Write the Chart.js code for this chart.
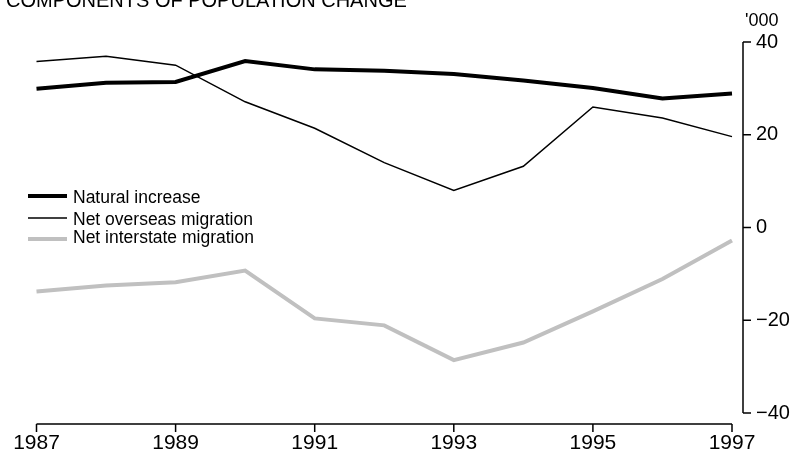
<!DOCTYPE html>
<html>
<head>
<meta charset="utf-8">
<script src="https://cdn.jsdelivr.net/npm/chart.js@4.4.1/dist/chart.umd.min.js"></script>
<style>
  body { margin: 0; background: #fff; }
  #grafico { display: block; }
</style>
</head>
<body>
<canvas id="grafico" width="792" height="454"></canvas>
<script>
const anos = ['1987', '1988', '1989', '1990', '1991', '1992', '1993', '1994', '1995', '1996', '1997'];
const naturalIncrease = [29.9, 31.2, 31.4, 35.9, 34.1, 33.8, 33.1, 31.7, 30.1, 27.8, 28.9];
const netOverseas = [35.8, 36.9, 35.0, 27.1, 21.4, 14.0, 8.0, 13.2, 26.0, 23.6, 19.6];
const netInterstate = [-13.8, -12.5, -11.8, -9.3, -19.6, -21.1, -28.6, -24.8, -18.1, -11.1, -2.8];
const yTicks = [-40, -20, 0, 20, 40];

const fonte = '"Liberation Sans", Arial, sans-serif';

// eixos, legenda e titulo desenhados a mao
const extras = {
    id: 'extras',
    afterDraw(chart) {
        const ctx = chart.ctx;
        const x = chart.scales.x;
        const y = chart.scales.y;
        ctx.save();
        ctx.strokeStyle = '#000';
        ctx.lineWidth = 1.5;

        // eixo x
        const yEixo = 424;
        ctx.beginPath();
        ctx.moveTo(x.getPixelForValue(0), yEixo);
        ctx.lineTo(x.getPixelForValue(anos.length - 1), yEixo);
        for (let i = 0; i < anos.length; i += 2) {
            const px = x.getPixelForValue(i);
            ctx.moveTo(px, yEixo);
            ctx.lineTo(px, yEixo + 8);
        }
        ctx.stroke();

        // eixo y
        const xEixo = 743;
        ctx.beginPath();
        ctx.moveTo(xEixo, y.getPixelForValue(40));
        ctx.lineTo(xEixo, y.getPixelForValue(-40));
        yTicks.forEach(function (v) {
            const py = y.getPixelForValue(v);
            ctx.moveTo(xEixo, py);
            ctx.lineTo(xEixo + 8, py);
        });
        ctx.stroke();

        ctx.fillStyle = '#000';
        ctx.textAlign = 'left';
        ctx.textBaseline = 'middle';
        ctx.font = '18px ' + fonte;
        ctx.fillText("'000", 745, 21);

        // titulo (cortado no topo)
        ctx.textBaseline = 'alphabetic';
        ctx.font = '20px ' + fonte;
        ctx.fillText('COMPONENTS OF POPULATION CHANGE', 6, 6.5);

        // legenda
        const linhaY = [196, 218, 239];
        const textoY = [198, 220, 238];
        ctx.font = '17.5px ' + fonte;
        ctx.textBaseline = 'middle';
        chart.data.datasets.forEach(function (ds, i) {
            ctx.beginPath();
            ctx.strokeStyle = ds.borderColor;
            ctx.lineWidth = ds.borderWidth;
            ctx.moveTo(28, linhaY[i]);
            ctx.lineTo(67, linhaY[i]);
            ctx.stroke();
            ctx.fillStyle = '#000';
            ctx.fillText(ds.label, 73, textoY[i]);
        });
        ctx.restore();
    }
};

const ctx = document.getElementById('grafico').getContext('2d');
const grafico = new Chart(ctx, {
    type: 'line',
    data: {
        labels: anos,
        datasets: [{
            label: 'Natural increase',
            data: naturalIncrease,
            borderColor: '#000000',
            borderWidth: 4,
        }, {
            label: 'Net overseas migration',
            data: netOverseas,
            borderColor: '#000000',
            borderWidth: 1.5,
        }, {
            label: 'Net interstate migration',
            data: netInterstate,
            borderColor: '#c0c0c0',
            borderWidth: 4,
        }]
    },
    options: {
        responsive: false,
        animation: false,
        layout: { padding: { top: 42, left: 36.5, right: 0, bottom: 0 } },
        elements: { point: { radius: 0 }, line: { tension: 0 } },
        plugins: { legend: { display: false }, tooltip: { enabled: false } },
        scales: {
            x: {
                offset: false,
                grid: { display: false, drawTicks: false },
                border: { display: false },
                ticks: {
                    autoSkip: false,
                    maxRotation: 0,
                    padding: 18,
                    color: '#000',
                    font: { family: fonte, size: 21 },
                    callback: function (value, index) {
                        return index % 2 === 0 ? anos[index] : '';
                    }
                },
                afterFit: function (scale) {
                    scale.height = 41;
                    scale.paddingLeft = 0;
                    scale.paddingRight = 0;
                }
            },
            y: {
                position: 'right',
                min: -40,
                max: 40,
                grid: { display: false, drawTicks: false },
                border: { display: false },
                ticks: {
                    stepSize: 20,
                    padding: 24,
                    color: '#000',
                    font: { family: fonte, size: 20 },
                    callback: function (value) {
                        return String(value).replace('-', '\u2212');
                    }
                },
                afterFit: function (scale) {
                    scale.width = 60;
                    scale.paddingTop = 0;
                    scale.paddingBottom = 0;
                }
            }
        }
    },
    plugins: [extras]
});
</script>
</body>
</html>
